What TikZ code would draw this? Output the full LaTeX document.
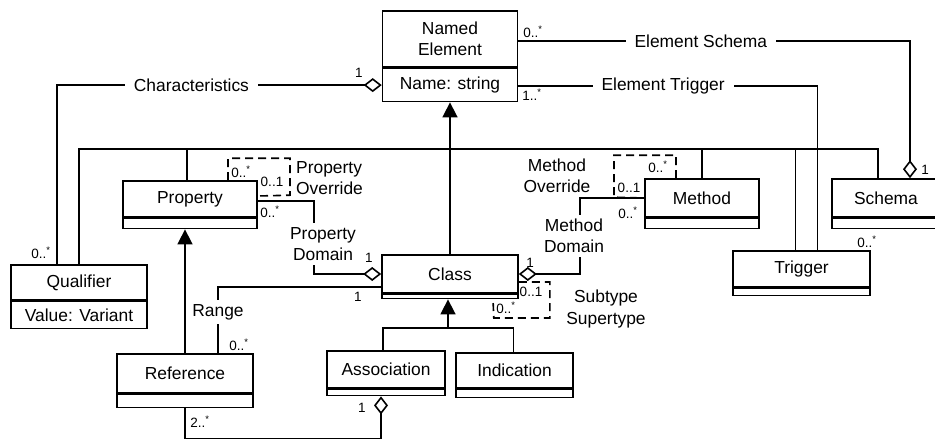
\documentclass[tikz,border=0pt]{standalone}
\usepackage{fontspec}
\setmainfont{Liberation Sans}
\usetikzlibrary{positioning,arrows.meta}
\newcommand\umlfont{\fontsize{17.4}{21.5}\selectfont}
\newcommand\multfont{\fontsize{13.5}{14}\selectfont}
\newcommand\many[1]{#1..\textsuperscript{*}}
\tikzset{
  classbox/.style ={rectangle,draw,line width=1.6pt,inner sep=0pt,align=center,font=\umlfont},
  assoc/.style    ={line width=1.6pt},
  genline/.style  ={assoc,-{Triangle[length=15pt,width=15pt]}},
  aggr/.style     ={assoc,-{Diamond[open,length=18pt,width=14pt]}},
  loopline/.style ={assoc,dash pattern=on 8pt off 5pt},
  role/.style     ={fill=white,font=\umlfont,align=center,inner xsep=9pt,inner ysep=4pt},
  mult/.style     ={font=\multfont,inner sep=0pt},
}
\begin{document}
\begin{tikzpicture}[x=1pt,y=-1pt]
  \useasboundingbox (0,0) rectangle (935,439);
  \node[classbox,minimum width=135pt,minimum height=56pt] (ne) at (450,39) {Named\\Element};
  \node[classbox,minimum width=135pt,minimum height=33pt,below=0pt of ne] (ne-attr) {Name: string};
  \node[classbox,minimum width=136pt,minimum height=35pt] (qual) at (79,282.5) {Qualifier};
  \node[classbox,minimum width=136pt,minimum height=27pt,below=0pt of qual] (qual-attr) {Value: Variant};
  \node[classbox,minimum width=134pt,minimum height=36pt] (prop) at (190,199) {Property};
  \node[classbox,minimum width=136pt,minimum height=38pt] (cls) at (450,274) {Class};
  \node[classbox,minimum width=136pt,minimum height=39pt] (ref) at (185,373.5) {Reference};
  \node[classbox,minimum width=118pt,minimum height=37pt] (asc) at (386,369.5) {Association};
  \node[classbox,minimum width=117pt,minimum height=35pt] (ind) at (514.5,370.5) {Indication};
  \node[classbox,minimum width=114pt,minimum height=38pt] (meth) at (702,198) {Method};
  \node[classbox,minimum width=108pt,minimum height=38pt] (schema) at (886,198) {Schema};
  \node[classbox,minimum width=137pt,minimum height=36pt] (trig) at (801.5,269) {Trigger};
  \foreach \n/\w/\h in {prop/134/10,cls/136/4,ref/136/13,asc/118/6,ind/117/8,meth/114/10,schema/108/10,trig/137/7}
    {\node[classbox,minimum width=\w pt,minimum height=\h pt,below=0pt of \n] (\n-attr) {};}

  \coordinate (tree) at (450,149);
  \draw[genline] (cls.north) -- (ne-attr.south);
  \foreach \n/\dx in {qual/0,prop/-3,meth/0,trig/-6,schema/-8}
    {\draw[assoc] ([xshift=\dx pt]\n.north) |- (tree);}
  \coordinate (sub) at (448,328);
  \draw[assoc] ([xshift=-3pt]asc.north) |- (sub) -| ([xshift=-1pt]ind.north);
  \draw[genline] (sub) -- (sub |- cls-attr.south);
  \draw[genline] (ref.north) -- (ref.north |- prop-attr.south);

  \draw[aggr] ([xshift=-22pt]qual.north) |- node[role,pos=0.707] {Characteristics} (ne-attr.west);
  \draw[aggr] ([yshift=-2pt]ne.east) -| node[role,pos=0.233] {Element Schema} ([xshift=24pt]schema.north);
  \draw[assoc] ([yshift=-1pt]ne-attr.east) -| node[role,pos=0.242] {Element Trigger} ([xshift=16pt]trig.north);
  \draw[aggr] ([yshift=-2pt]prop.east) -| ([xshift=-67pt]cls.west) -- (cls.west);
  \node[role,inner xsep=2pt] (pdom) at (323,244) {Property\\Domain};
  \draw[aggr] (meth.west) -| ([xshift=61pt]cls.east) -- (cls.east);
  \node[role,inner xsep=2pt] (mdom) at (574,236) {Method\\Domain};
  \draw[assoc] ([yshift=-13pt]cls.west) -| node[role,pos=0.69,inner xsep=2pt] {Range} ([xshift=33pt]ref.north);
  \draw[aggr] (ref-attr.south) -- ++(0,30.5) -| ([xshift=-5pt]asc-attr.south);

  \draw[loopline] ([xshift=38pt]prop.north) -- ++(0,-22) -- ++(62,0) -- ++(0,37) -- ([yshift=3pt]prop.east);
  \draw[loopline] ([xshift=-26pt]meth.north) -- ++(0,-23) -- ++(-62,0) -- ++(0,42) -- (meth.west);
  \draw[loopline] ([yshift=-8pt]cls.east) -- ++(31,0) -- ++(0,36) -- ++(-56,0) -- ([xshift=43pt]cls-attr.south);
  \node[font=\umlfont,align=left,anchor=west,inner sep=0pt] (povr) at (296,178) {Property\\Override};
  \node[font=\umlfont,align=center,inner sep=0pt] (movr) at (557,176) {Method\\Override};
  \node[font=\umlfont,align=center,inner sep=0pt] (subsup) at (606,309) {Subtype\\Supertype};

  \foreach \x/\y/\t in {359/73/1,533/32/{\many0},532/95/{\many1},41/253/{\many0},241/172/{\many0},
      272/182/{0..1},270/212/{\many0},369/258/1,358/297/1,239/345/{\many0},362/408/1,200/422/{\many2},
      658/167/{\many0},629/188/{0..1},628/213/{\many0},530/263/1,531/292/{0..1},506/308/{\many0},
      925/170/1,867/242/{\many0}}
    {\node[mult] at (\x,\y) {\t};}
\end{tikzpicture}
\end{document}
